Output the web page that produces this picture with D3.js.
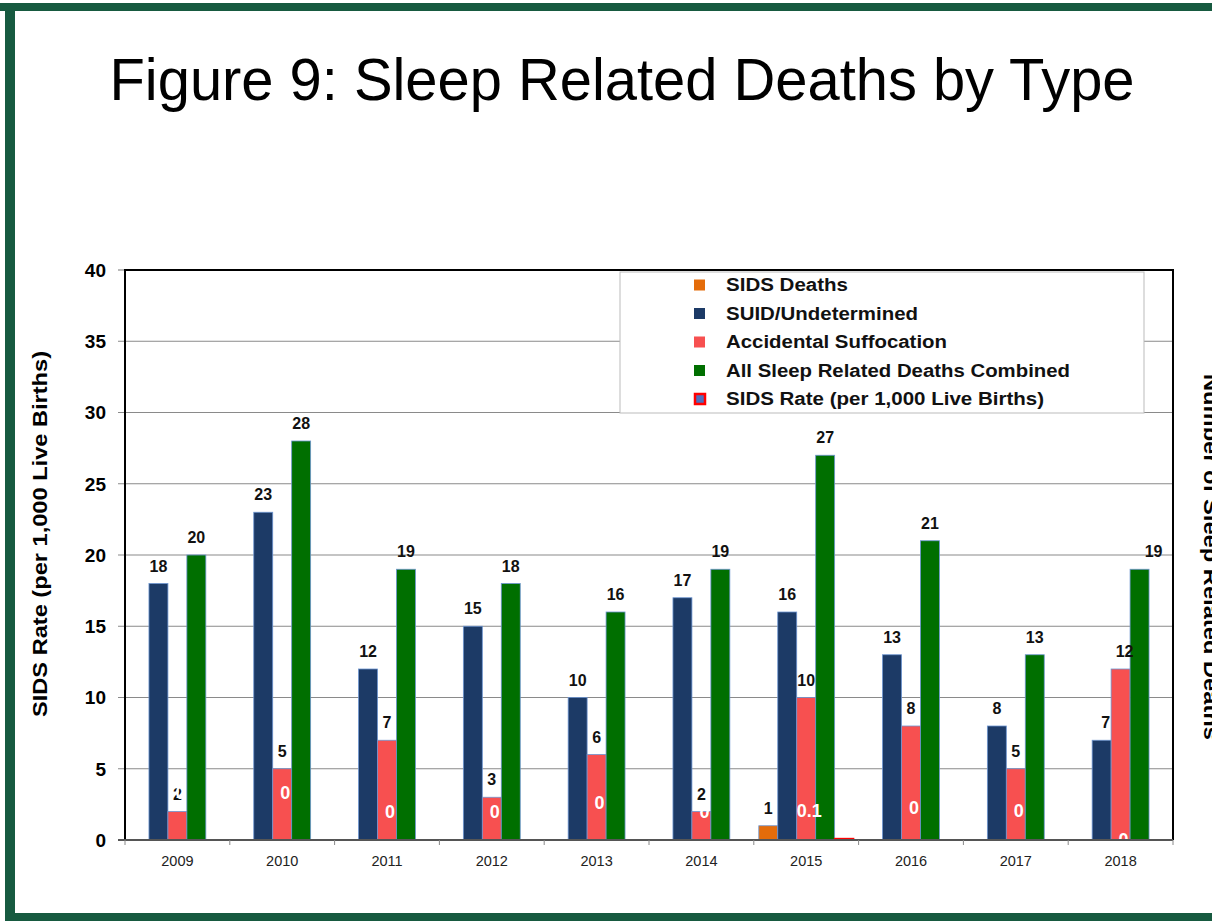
<!DOCTYPE html>
<html><head><meta charset="utf-8">
<script src="https://cdn.jsdelivr.net/npm/d3@7"></script>
<style>body{margin:0;background:#fff}svg{display:block;font-family:"Liberation Sans",Arial,sans-serif}</style>
</head><body>
<svg id="c" width="1212" height="921"></svg>
<script>
const years = ["2009","2010","2011","2012","2013","2014","2015","2016","2017","2018"];
const sidsDeaths = [0,0,0,0,0,0,1,0,0,0];
const suid = [18,23,12,15,10,17,16,13,8,7];
const accidental = [2,5,7,3,6,2,10,8,5,12];
const combined = [20,28,19,18,16,19,27,21,13,19];
const sidsRate = [0,0,0,0,0,0,0.1,0,0,0];
const rateLabelAt = [3.3,3.3,2.0,2.0,2.6,2.0,2.1,2.25,2.1,0];
const yTicks = [0,5,10,15,20,25,30,35,40];
const seriesNames = ["SIDS Deaths","SUID/Undetermined","Accidental Suffocation","All Sleep Related Deaths Combined","SIDS Rate (per 1,000 Live Births)"];
const colors = ["#e46c0a","#1c3a66","#f75050","#006f00","#4f6fbd"];

const svg = d3.select("#c");
const W=1212,H=921;
const m={l:125,r:1173,t:270,b:840};

// frame
svg.append("rect").attr("x",0).attr("y",3).attr("width",W).attr("height",8).attr("fill","#175a40");
svg.append("rect").attr("x",5).attr("y",3).attr("width",10).attr("height",H-3).attr("fill","#175a40");
svg.append("rect").attr("x",5).attr("y",913).attr("width",W).attr("height",8).attr("fill","#175a40");

svg.append("text").attr("x",622).attr("y",100).attr("text-anchor","middle")
  .attr("font-size",60).attr("textLength",1025).attr("lengthAdjust","spacingAndGlyphs")
  .attr("fill","#000").text("Figure 9: Sleep Related Deaths by Type");

const x0 = d3.scaleBand().domain(years).range([m.l,m.r]).padding(0);
const x1 = d3.scaleBand().domain(d3.range(5)).range([5, x0.bandwidth()-5]).padding(0);
const y = d3.scaleLinear().domain([0,40]).range([m.b,m.t]);

// grid
svg.append("g").selectAll("line").data(yTicks.filter(d=>d>0&&d<40)).join("line")
  .attr("x1",m.l-7).attr("x2",m.r).attr("y1",d=>y(d)).attr("y2",d=>y(d))
  .attr("stroke","#8a8a8a").attr("stroke-width",1.2);
svg.append("line").attr("x1",m.l-7).attr("x2",m.l).attr("y1",y(40)).attr("y2",y(40)).attr("stroke","#8a8a8a").attr("stroke-width",1.2);

// y tick labels
svg.append("g").selectAll("text").data(yTicks).join("text")
  .attr("x",106).attr("y",d=>y(d)).attr("dy","0.36em").attr("text-anchor","end")
  .attr("font-size",19).attr("font-weight","bold").text(d=>d);

svg.append("text").attr("transform","translate(47,534) rotate(-90)").attr("text-anchor","middle")
  .attr("font-size",20).attr("font-weight","bold")
  .attr("textLength",366).attr("lengthAdjust","spacingAndGlyphs")
  .text("SIDS Rate (per 1,000 Live Births)");
svg.append("text").attr("transform","translate(1204,557) rotate(90)").attr("text-anchor","middle")
  .attr("font-size",20).attr("font-weight","bold")
  .attr("textLength",366).attr("lengthAdjust","spacingAndGlyphs")
  .text("Number of Sleep Related Deaths");

const g = svg.append("g");
const series = [sidsDeaths,suid,accidental,combined,sidsRate];
series.forEach((vals,si)=>{
  g.selectAll(null).data(vals).join("rect")
    .attr("x",(d,i)=>x0(years[i])+x1(si))
    .attr("width",x1.bandwidth())
    .attr("y",d=>y(d)).attr("height",d=>y(0)-y(d))
    .attr("fill",si===4?"#4f6fbd":colors[si])
    .attr("stroke",si===4?"#ff0000":"#6d95d0").attr("stroke-width",si===4?1.5:0.8)
    .style("display",d=>d>0?null:"none");
});
// value labels
[1,2,3].forEach(si=>{
  g.selectAll(null).data(series[si]).join("text")
    .attr("x",(d,i)=>x0(years[i])+x1(si)+x1.bandwidth()/2 + (years[i]==="2018"? (si===3?14:4) : 0))
    .attr("y",d=>y(d)-12).attr("text-anchor","middle")
    .attr("font-size",16).attr("font-weight","bold").attr("fill","#111").text(d=>d);
});
g.selectAll(null).data(sidsDeaths).join("text")
  .attr("x",(d,i)=>x0(years[i])+x1(0)+x1.bandwidth()/2)
  .attr("y",d=>y(d)-12).attr("text-anchor","middle")
  .attr("font-size",16).attr("font-weight","bold").attr("fill","#111")
  .text(d=>d>0?d:"");
// rate labels (white)
g.selectAll(null).data(sidsRate).join("text")
  .attr("x",(d,i)=>x0(years[i])+x1(2)+x1.bandwidth()/2+3)
  .attr("y",(d,i)=>y(rateLabelAt[i])).attr("dy","0.36em").attr("text-anchor","middle")
  .attr("font-size",18).attr("font-weight","bold").attr("fill","#fff").text(d=>d);

// plot border
svg.append("path").attr("d",`M${m.l},${m.b}V${m.t}H${m.r}V${m.b}`).attr("fill","none").attr("stroke","#000").attr("stroke-width",2);
// x axis
const xa = svg.append("g").attr("transform",`translate(0,${m.b})`)
  .call(d3.axisBottom(x0).tickSize(0).tickPadding(16));
xa.select(".domain").remove();
xa.selectAll("text").attr("font-size",14.5).attr("font-family","Liberation Sans, Arial").attr("fill","#222");
svg.append("line").attr("x1",m.l-7).attr("x2",m.r).attr("y1",m.b).attr("y2",m.b).attr("stroke","#555").attr("stroke-width",2);
svg.append("g").selectAll("line").data(years.concat(["end"])).join("line")
  .attr("x1",(d,i)=>m.l+i*x0.bandwidth()).attr("x2",(d,i)=>m.l+i*x0.bandwidth())
  .attr("y1",m.b).attr("y2",m.b+5).attr("stroke","#888").attr("stroke-width",1);

// legend
const lg = svg.append("g");
lg.append("rect").attr("x",620).attr("y",272).attr("width",524).attr("height",141)
  .attr("fill","#fff").attr("stroke","#bbb").attr("stroke-width",1);
const ly = d3.scalePoint().domain(d3.range(5)).range([285,399]);
const legendLen = [122,192,221,344,318];
seriesNames.forEach((n,i)=>{
  if(i===4){
    lg.append("rect").attr("x",695).attr("y",ly(i)-5).attr("width",10).attr("height",10)
      .attr("fill","#4f6fbd").attr("stroke","#ff0000").attr("stroke-width",2.5);
  } else {
    lg.append("rect").attr("x",694).attr("y",ly(i)-5.5).attr("width",11).attr("height",11).attr("fill",colors[i]);
  }
  lg.append("text").attr("x",726).attr("y",ly(i)).attr("dy","0.36em")
    .attr("font-size",18).attr("font-weight","bold").attr("fill","#111")
    .attr("textLength",legendLen[i]).attr("lengthAdjust","spacingAndGlyphs").text(n);
});
</script>
</body></html>
